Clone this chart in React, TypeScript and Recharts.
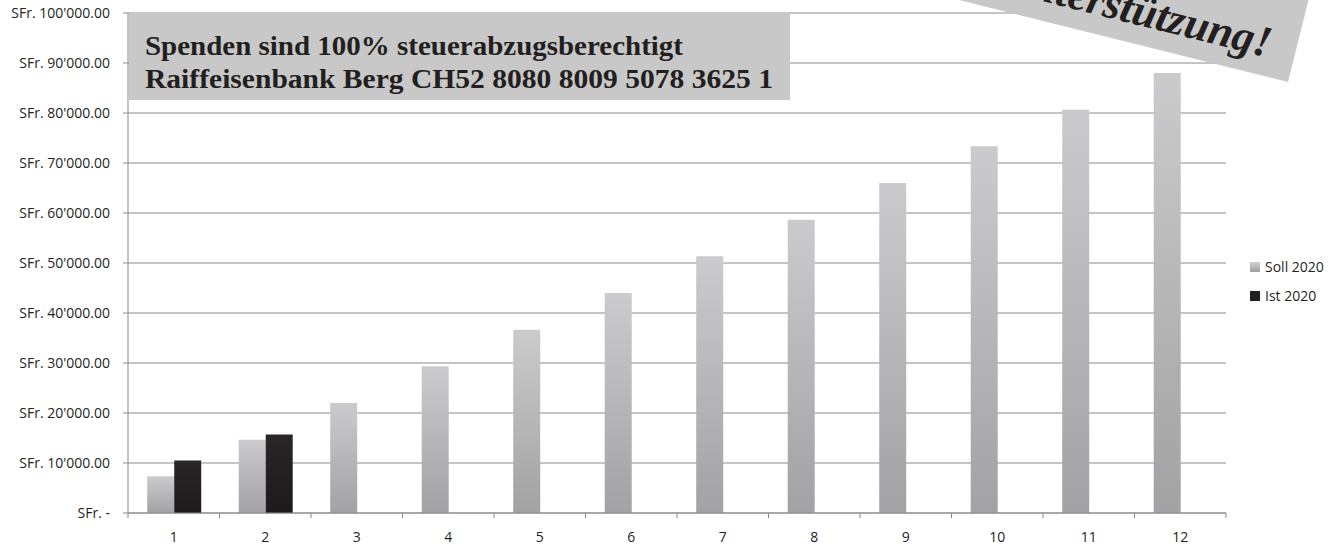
import React from 'react'
import { BarChart, Bar, XAxis, YAxis, CartesianGrid, Legend } from 'recharts'

const months = ['1', '2', '3', '4', '5', '6', '7', '8', '9', '10', '11', '12']
const seriesNames = ['Soll 2020', 'Ist 2020']
const soll2020 = [7333, 14667, 22000, 29333, 36667, 44000, 51333, 58667, 66000, 73333, 80667, 88000]
const ist2020: (number | null)[] = [10500, 15700, null, null, null, null, null, null, null, null, null, null]
const yTicks = [0, 10000, 20000, 30000, 40000, 50000, 60000, 70000, 80000, 90000, 100000]

const titleLines = [
  'Spenden sind 100% steuerabzugsberechtigt',
  'Raiffeisenbank Berg CH52 8080 8009 5078 3625 1',
]
const bannerText = 'Vielen Dank für Ihre Unterstützung!'

const data = months.map((m, i) => ({ month: m, soll: soll2020[i], ist: ist2020[i] }))

const AXIS = '#8a8a8a'
const TEXT = '#231f20'
const FONT = '"Open Sans", "Liberation Sans", sans-serif'
const TICK_SIZE = 5
const TICK_MARGIN = 14

function formatChf(v: number) {
  if (v === 0) return 'SFr. -'
  const s = Math.round(v).toString().replace(/\B(?=(\d{3})+(?!\d))/g, "'")
  return `SFr. ${s}.00`
}

const swatch: Record<string, string> = {
  'Soll 2020': 'linear-gradient(#d2d2d4, #9e9ea0)',
  'Ist 2020': '#231f20',
}

function LegendBox(props: any) {
  const items = [...(props.payload ?? [])].sort(
    (a: any, b: any) => seriesNames.indexOf(a.value) - seriesNames.indexOf(b.value)
  )
  return (
    <div style={{ fontFamily: FONT, fontSize: 14, color: TEXT }}>
      {items.map((p: any) => (
        <div key={p.value} style={{ display: 'flex', alignItems: 'center', height: 29 }}>
          <span style={{ display: 'inline-block', width: 10, height: 10, background: swatch[p.value], marginRight: 5 }} />
          {p.value}
        </div>
      ))}
    </div>
  )
}

// month label plus the small tick marks Excel puts on the category borders
function MonthTick(props: any) {
  const { x, y, payload, index, visibleTicksCount } = props
  const half = payload.offset ?? 0
  const axisY = y - TICK_SIZE - TICK_MARGIN
  const last = index === visibleTicksCount - 1
  return (
    <g>
      <line x1={x - half} x2={x - half} y1={axisY} y2={axisY + TICK_SIZE} stroke={AXIS} />
      {last && <line x1={x + half} x2={x + half} y1={axisY} y2={axisY + TICK_SIZE} stroke={AXIS} />}
      <text x={x} y={y} dy="0.71em" textAnchor="middle" fontSize={14} fill={TEXT} fontFamily={FONT}>
        {payload.value}
      </text>
    </g>
  )
}

export default function App() {
  return (
    <div style={{ position: 'absolute', left: 0, top: 0, width: 1338, height: 546, background: '#fff' }}>
      <BarChart
        width={1338}
        height={546}
        data={data}
        margin={{ top: 13, right: 112, left: 0, bottom: 0 }}
        barCategoryGap="21%"
        barGap={0}
      >
        <defs>
          <linearGradient id="gSoll" x1="0" y1="0" x2="0" y2="1">
            <stop offset="0%" stopColor="#cbcbcd" />
            <stop offset="100%" stopColor="#a2a2a4" />
          </linearGradient>
          <linearGradient id="gIst" x1="0" y1="0" x2="0" y2="1">
            <stop offset="0%" stopColor="#2a2627" />
            <stop offset="100%" stopColor="#1e1a1b" />
          </linearGradient>
        </defs>
        <CartesianGrid horizontal vertical={false} stroke={AXIS} strokeWidth={1} />
        <XAxis
          dataKey="month"
          height={33}
          axisLine={{ stroke: AXIS }}
          tickLine={false}
          tickSize={TICK_SIZE}
          tickMargin={TICK_MARGIN}
          interval={0}
          tick={<MonthTick />}
        />
        <YAxis
          width={128}
          domain={[0, 100000]}
          ticks={yTicks}
          tickFormatter={formatChf}
          tickSize={5}
          tickMargin={13}
          axisLine={{ stroke: AXIS }}
          tickLine={{ stroke: AXIS }}
          tick={{ fontSize: 14, fill: TEXT, fontFamily: FONT }}
        />
        <Legend
          layout="vertical"
          align="center"
          verticalAlign="middle"
          content={<LegendBox />}
          wrapperStyle={{ left: 1250, top: 252, width: 88 }}
        />
        <Bar dataKey="soll" name={seriesNames[0]} fill="url(#gSoll)" isAnimationActive={false} />
        <Bar dataKey="ist" name={seriesNames[1]} fill="url(#gIst)" isAnimationActive={false} />
      </BarChart>
      <svg width={1338} height={546} style={{ position: 'absolute', left: 0, top: 0, pointerEvents: 'none' }}>
        <rect x={129} y={12} width={661} height={88} fill="#c8c8c8" />
        <text x={145} y={55} fontFamily='"Liberation Serif", serif' fontWeight={700} fontSize={28} fill={TEXT} textLength={538} lengthAdjust="spacingAndGlyphs">
          {titleLines[0]}
        </text>
        <text x={145} y={88} fontFamily='"Liberation Serif", serif' fontWeight={700} fontSize={28} fill={TEXT} textLength={628} lengthAdjust="spacingAndGlyphs">
          {titleLines[1]}
        </text>
        <g transform="rotate(14 1288 82)">
          <rect x={588} y={-20} width={700} height={102} fill="#c8c8c8" />
          <text x={1262} y={63} textAnchor="end" fontFamily='"Liberation Serif", serif' fontStyle="italic" fontWeight={700} fontSize={44} fill={TEXT}>
            {bannerText}
          </text>
        </g>
      </svg>
    </div>
  )
}
